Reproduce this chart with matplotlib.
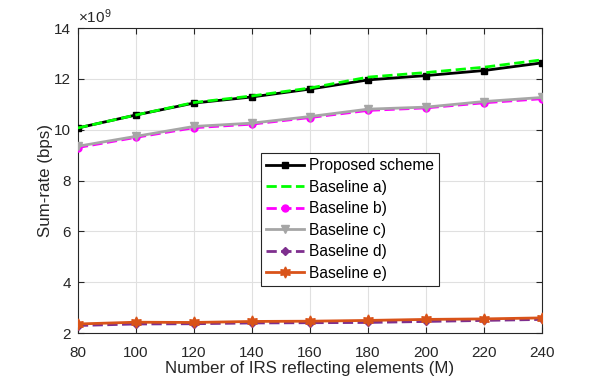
import matplotlib
matplotlib.use("Agg")
import matplotlib.pyplot as plt
import numpy as np

plt.rcParams['font.family'] = ['Liberation Sans', 'DejaVu Sans']
plt.rcParams['mathtext.fontset'] = 'custom'
plt.rcParams['mathtext.rm'] = 'Liberation Sans'

M = [80, 100, 120, 140, 160, 180, 200, 220, 240]
# sum-rate values in units of 1e9 bps
proposed = [10.07, 10.58, 11.05, 11.29, 11.60, 11.96, 12.13, 12.33, 12.63]
base_a = [10.07, 10.58, 11.07, 11.33, 11.64, 12.07, 12.25, 12.46, 12.75]
base_b = [9.30, 9.70, 10.08, 10.22, 10.48, 10.76, 10.86, 11.06, 11.22]
base_c = [9.35, 9.74, 10.13, 10.26, 10.52, 10.81, 10.89, 11.11, 11.27]
base_d = [2.30, 2.36, 2.37, 2.40, 2.41, 2.42, 2.46, 2.50, 2.54]
base_e = [2.36, 2.43, 2.42, 2.46, 2.47, 2.50, 2.54, 2.56, 2.60]
yticks = [2, 4, 6, 8, 10, 12, 14]

fig = plt.figure(figsize=(5.99, 3.79), dpi=100)
ax = fig.add_axes([0.130, 0.121, 0.775, 0.805])

ax.plot(M, proposed, '-', color='black', lw=2, marker='s', ms=5, label='Proposed scheme', zorder=6)
ax.plot(M, base_a, '--', color='#00FF00', lw=2, label='Baseline a)', zorder=7)
ax.plot(M, base_b, '--', color='#FF00FF', lw=2, marker='o', ms=5, label='Baseline b)', zorder=4)
ax.plot(M, base_c, '-', color='#A6A6A6', lw=2, marker='v', ms=6, label='Baseline c)', zorder=5)
ax.plot(M, base_d, '--', color='#7E2F8E', lw=2, marker='D', ms=4.5, label='Baseline d)', zorder=4)
ax.plot(M, base_e, '-', color='#D95319', lw=2, marker=(6, 1, 0), ms=8, label='Baseline e)', zorder=5)

ax.set_xlim(80, 240)
ax.set_ylim(2, 14)
ax.set_xticks(M)
ax.set_yticks(yticks)

ax.grid(True, color='#E0E0E0', lw=0.8)
ax.set_axisbelow(True)
ax.tick_params(direction='in', top=True, right=True, labelsize=11, length=4,
               color='#262626', labelcolor='#262626')
ax.tick_params(axis='x', pad=9)
ax.tick_params(axis='y', pad=5)
for sp in ax.spines.values():
    sp.set_color('#262626')
    sp.set_linewidth(0.8)

ax.text(0.0, 1.008, r'$\times\mathregular{10^{9}}$', transform=ax.transAxes,
        fontsize=11, color='#262626', ha='left', va='bottom')

ax.set_xlabel('Number of IRS reflecting elements (M)', fontsize=12.2, color='#262626', labelpad=1)
ax.set_ylabel('Sum-rate (bps)', fontsize=12.2, color='#262626', labelpad=1)

leg = ax.legend(loc='upper left', bbox_to_anchor=(0.394, 0.592), fontsize=11.2,
                frameon=True, fancybox=False, edgecolor='#262626', framealpha=1,
                borderpad=0.35, labelspacing=0.42, handlelength=2.45, handletextpad=0.3,
                borderaxespad=0)
leg.get_frame().set_linewidth(0.8)

fig.savefig('out.png', dpi=100)
